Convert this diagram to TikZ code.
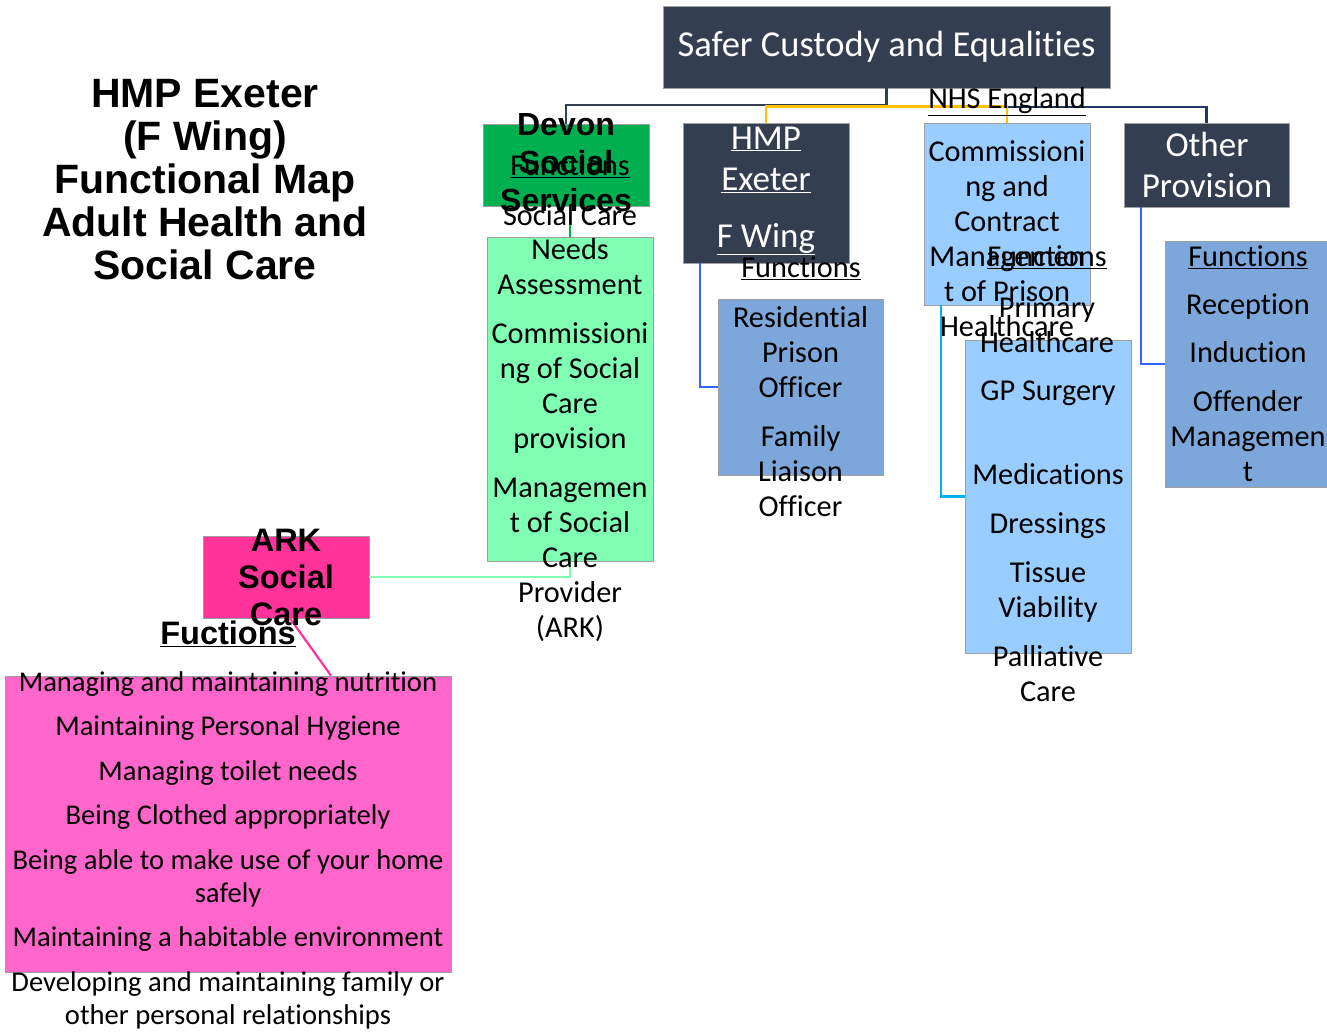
\documentclass[tikz,border=0pt]{standalone}
\usepackage{fontspec}
\setmainfont{Carlito}[Ligatures=NoCommon]
\newfontfamily\arialfont{Liberation Sans}

\definecolor{navybox}{HTML}{333F50}
\definecolor{navyline}{HTML}{1F3864}
\definecolor{yellowline}{HTML}{FFC000}
\definecolor{devongreen}{HTML}{00B050}
\definecolor{lightgreen}{HTML}{80FFB4}
\definecolor{arkpink}{HTML}{FF3399}
\definecolor{fnpink}{HTML}{FF66CC}
\definecolor{midblue}{HTML}{7DA7DA}
\definecolor{paleblue}{HTML}{99CCFF}
\definecolor{blueline}{HTML}{3366FF}
\definecolor{cyanline}{HTML}{00B0F0}

\tikzset{
  box/.style={rectangle,draw=gray!75,line width=0.8pt,inner sep=0pt},
  txt/.style={align=center,inner sep=0pt,font=\fontsize{30.3}{35}\selectfont},
  headtxt/.style={align=center,inner sep=0pt,text=white,font=\fontsize{35}{41}\selectfont},
  boldtxt/.style={align=center,inner sep=0pt,font=\arialfont\bfseries\fontsize{32}{38}\selectfont}
}

\begin{document}
\begin{tikzpicture}[x=1pt,y=-1pt]

      \useasboundingbox (0,0) rectangle (1327,1032);

      \begin{scope}[every node/.style={box}]
        \node[fill=navybox,minimum width=447pt,minimum height=82pt]    (top)     at (886.5,47)   {};
        \node[fill=devongreen,minimum width=166pt,minimum height=82pt] (devon)   at (566,165)    {};
        \node[fill=lightgreen,minimum width=166pt,minimum height=324pt] (needs)  at (570,399)    {};
        \node[fill=arkpink,minimum width=166pt,minimum height=82pt]    (ark)     at (286,577)    {};
        \node[fill=fnpink,minimum width=446pt,minimum height=296pt]    (fnbox)   at (228,824)    {};
        \node[fill=navybox,minimum width=166pt,minimum height=140pt]   (hmp)     at (766,193)    {};
        \node[fill=midblue,minimum width=165pt,minimum height=176pt]   (resi)    at (800.5,387)  {};
        \node[fill=paleblue,minimum width=166pt,minimum height=182pt]  (comm)    at (1007,214)   {};
        \node[fill=paleblue,minimum width=166pt,minimum height=313pt]  (gp)      at (1048,496.5) {};
        \node[fill=navybox,minimum width=165pt,minimum height=84pt]    (other)   at (1206.5,165) {};
        \node[fill=midblue,minimum width=165pt,minimum height=246pt]   (otherfn) at (1247.5,364) {};
      \end{scope}

      \begin{scope}[line width=2.2pt]
        \draw[navybox]    (top.south) -- ++(0,17) -| (devon.north);
        \draw[navyline]   (top.south) ++(0,19) -| (other.north);
        \draw[yellowline] (hmp.north) -- ++(0,-16) -| (comm.north);
        \draw[devongreen] (needs.north) -- (needs.north |- devon.south);
        \draw[lightgreen] (needs.south) |- (ark.east);
        \draw[arkpink]    ([xshift=4pt]ark.south) -- ([xshift=103pt]fnbox.north);
        \draw[blueline]   ([xshift=17pt]hmp.south west) |- (resi.west);
        \draw[cyanline]   ([xshift=17pt]comm.south west) |- (gp.west);
        \draw[blueline]   ([xshift=17pt]other.south west) |- (otherfn.west);
      \end{scope}

      \node[boldtxt,font=\arialfont\bfseries\fontsize{41}{43}\selectfont] (title) at (205,180)
        {HMP Exeter\\(F Wing)\\Functional Map\\Adult Health and\\Social Care};

      \node[headtxt,font=\fontsize{36.5}{41}\selectfont] (toptxt) at (886.5,47) {Safer Custody and Equalities};

      \node[boldtxt] (devontxt) at (566,163) {Devon\\Social\\Services};
      \node[txt] (devonfn) at (570,166) {\underline{Functions}};
      \node[txt] (devoncare) at (570,215) {Social Care};
      \node[txt] (needstxt) at (570,440)
        {Needs\\Assessment\\[14pt]Commissioni\\ng of Social\\Care\\provision\\[14pt]Managemen\\t of Social\\Care\\Provider\\(ARK)};

      \node[boldtxt,font=\arialfont\bfseries\fontsize{32.5}{37}\selectfont] (arktxt) at (286,577) {ARK\\Social\\Care};
      \node[boldtxt,font=\arialfont\bfseries\fontsize{32.5}{37}\selectfont] (arkfn) at (228,634) {\underline{Fuctions}};
      \node[txt,font=\fontsize{28.6}{33}\selectfont] (fntxt) at (228,850)
        {Managing and maintaining nutrition\\[11.5pt]Maintaining Personal Hygiene\\[11.5pt]Managing toilet needs\\[11.5pt]Being Clothed appropriately\\[11.5pt]Being able to make use of your home\\safely\\[11.5pt]Maintaining a habitable environment\\[11.5pt]Developing and maintaining family or\\other personal relationships};

      \node[headtxt] (hmptxt) at (766,191) {\underline{HMP}\\\underline{Exeter}\\[16pt]\underline{F Wing}};
      \node[txt] (hmpfn) at (801,268) {\underline{Functions}};
      \node[txt] (resitxt) at (800.5,411.5) {Residential\\Prison\\Officer\\[14pt]Family\\Liaison\\Officer};

      \node[txt] (nhs) at (1007,102) {\underline{NHS England}};
      \node[txt] (commtxt) at (1007,239) {Commissioni\\ng and\\Contract\\Managemen\\t of Prison\\Healthcare};
      \node[txt] (commfn) at (1047,257) {\underline{Functions}};
      \node[txt] (primary) at (1047,325) {Primary\\Healthcare};
      \node[txt] (gptxt) at (1048,541.5) {GP Surgery\\[49pt]Medications\\[14pt]Dressings\\[14pt]Tissue\\Viability\\[14pt]Palliative\\Care};

      \node[headtxt] (othertxt) at (1207,164.5) {Other\\Provision};
      \node[txt] (otherfntxt) at (1248,364) {\underline{Functions}\\[13pt]Reception\\[13pt]Induction\\[14pt]Offender\\Managemen\\t};

    \end{tikzpicture}
\end{document}
